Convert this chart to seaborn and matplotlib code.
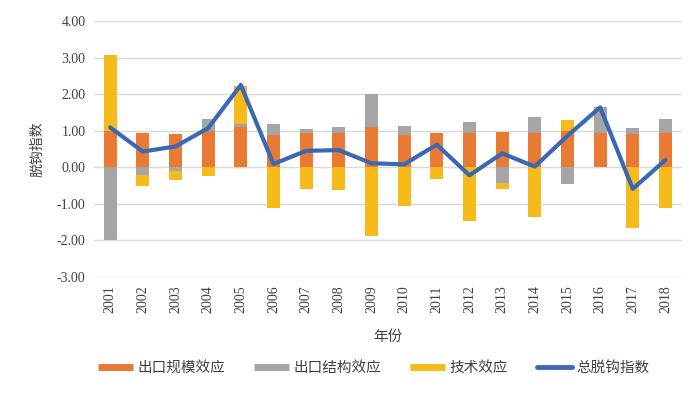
import matplotlib.pyplot as plt
from matplotlib.lines import Line2D
import seaborn as sns
import numpy as np
import pandas as pd

years = [str(y) for y in range(2001, 2019)]
scale_eff = [1.00, 0.95, 0.92, 1.00, 1.09, 0.89, 0.93, 0.95, 1.09, 0.88, 0.95, 0.95, 0.97, 0.95, 1.00, 0.95, 0.90, 0.95]
struct_eff = [-1.98, -0.21, -0.09, 0.31, 0.09, 0.29, 0.12, 0.14, 0.91, 0.24, 0.00, 0.29, -0.44, 0.42, -0.46, 0.69, 0.17, 0.37]
tech_eff = [2.06, -0.30, -0.27, -0.24, 1.04, -1.10, -0.59, -0.62, -1.89, -1.05, -0.33, -1.46, -0.15, -1.35, 0.29, 0.00, -1.66, -1.12]
total_idx = [1.09, 0.43, 0.57, 1.07, 2.25, 0.09, 0.45, 0.47, 0.11, 0.08, 0.62, -0.22, 0.38, 0.02, 0.86, 1.64, -0.59, 0.20]

series_names = ['出口规模效应', '出口结构效应', '技术效应']
colors = ['#E97A33', '#A5A5A5', '#F6BB1A']
line_color = '#3A68B4'

sns.set_style('white')
plt.rcParams['font.family'] = ['Liberation Serif', 'Noto Sans CJK SC', 'DejaVu Sans']
cjk = ['Noto Sans CJK SC', 'DejaVu Sans']

fig = plt.figure(figsize=(7, 4), dpi=100)
ax = fig.add_axes([0.134, 0.3075, 0.84, 0.64])

# Stapeln: positive und negative Werte getrennt (wie Excel)
pos_base = np.zeros(len(years))
neg_base = np.zeros(len(years))
for name, vals, col in zip(series_names, [scale_eff, struct_eff, tech_eff], colors):
    vals = np.array(vals)
    bottom = np.where(vals >= 0, pos_base, neg_base)
    df = pd.DataFrame({'year': years, 'val': vals})
    sns.barplot(data=df, x='year', y='val', bottom=bottom, color=col, saturation=1, width=0.39,
                errorbar=None, ax=ax, linewidth=0, zorder=3)
    pos_base = pos_base + np.where(vals > 0, vals, 0)
    neg_base = neg_base + np.where(vals < 0, vals, 0)

sns.lineplot(x=np.arange(len(years)), y=total_idx, color=line_color, linewidth=3, ax=ax, zorder=4)

ax.set_ylim(-3, 4)
ax.set_xlim(-0.5, len(years) - 0.5)
ax.set_yticks(np.arange(-3, 5, 1))
ax.set_yticklabels([f'{v:.2f}' for v in np.arange(-3, 5, 1)])
ax.set_xticks(np.arange(len(years)))
ax.set_xticklabels(years, rotation=90)
ax.tick_params(axis='both', length=0, labelsize=10, colors='#404040', pad=6)
ax.grid(axis='y', color='#D9D9D9', linewidth=1, zorder=0)
ax.set_axisbelow(True)
for s in ax.spines.values():
    s.set_visible(False)

ax.set_xlabel('年份', family=cjk, fontsize=10.5, color='#404040', labelpad=12)
ax.set_ylabel('脱钩指数', family=cjk, fontsize=10, color='#404040', labelpad=9)

handles = [Line2D([0], [0], color=c, lw=5, solid_capstyle='butt') for c in colors]
handles.append(Line2D([0], [0], color=line_color, lw=3.5))
labels = series_names + ['总脱钩指数']
fig.legend(handles, labels, loc='center', bbox_to_anchor=(0.534, 0.08), ncol=4, frameon=False,
           handlelength=2.4, columnspacing=2.0, handletextpad=0.3,
           prop={'family': cjk, 'size': 10.5}, labelcolor='#404040')

fig.savefig('out.png', dpi=100)
